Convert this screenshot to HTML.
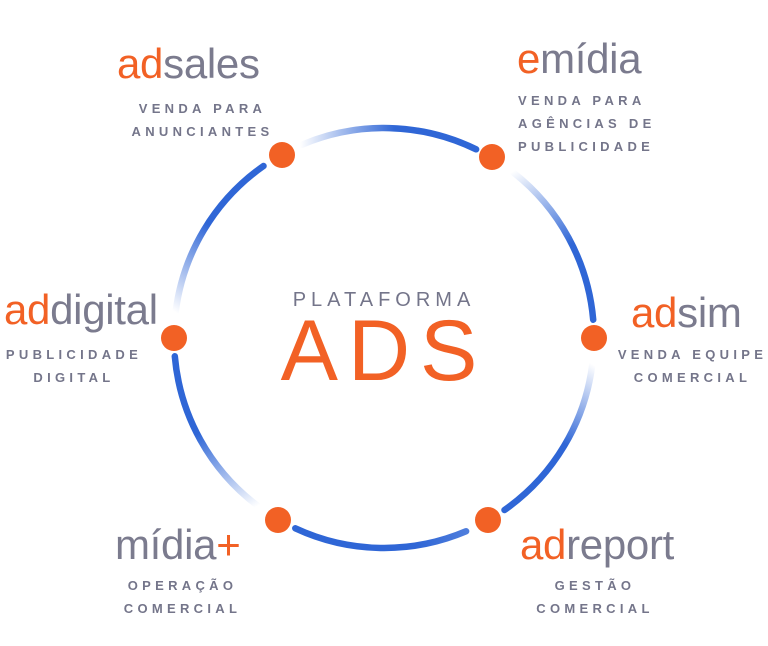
<!DOCTYPE html>
<html><head><meta charset="utf-8"><style>
body{margin:0;width:768px;height:646px;background:#fff;position:relative;overflow:hidden;font-family:"Liberation Sans",sans-serif}
.logo{position:absolute;font-size:42px;letter-spacing:-0.3px;color:#7b7b8e;line-height:1;white-space:nowrap}
.logo b{color:#f26125;font-weight:normal}
.sub{position:absolute;font-size:13px;font-weight:bold;letter-spacing:4.3px;color:#74758a;line-height:23px;white-space:nowrap}
.c{text-align:center}
</style></head><body>
<svg width="768" height="646" style="position:absolute;left:0;top:0">
<defs>
<linearGradient id="g1" gradientUnits="userSpaceOnUse" x1="300" y1="143" x2="472" y2="146"><stop offset="0" stop-color="#2f66d6" stop-opacity="0"/><stop offset="0.55" stop-color="#2f66d6"/></linearGradient>
<linearGradient id="g2" gradientUnits="userSpaceOnUse" x1="512" y1="172" x2="593" y2="318"><stop offset="0" stop-color="#2f66d6" stop-opacity="0"/><stop offset="0.55" stop-color="#2f66d6"/></linearGradient>
<linearGradient id="g3" gradientUnits="userSpaceOnUse" x1="592" y1="364" x2="505" y2="504"><stop offset="0" stop-color="#2f66d6" stop-opacity="0"/><stop offset="0.5" stop-color="#2f66d6"/></linearGradient>
<linearGradient id="g4" gradientUnits="userSpaceOnUse" x1="466" y1="530" x2="298" y2="530"><stop offset="0" stop-color="#2f66d6" stop-opacity="0.85"/><stop offset="0.3" stop-color="#2f66d6"/></linearGradient>
<linearGradient id="g5" gradientUnits="userSpaceOnUse" x1="256" y1="507" x2="175" y2="360"><stop offset="0" stop-color="#2f66d6" stop-opacity="0"/><stop offset="0.55" stop-color="#2f66d6"/></linearGradient>
<linearGradient id="g6" gradientUnits="userSpaceOnUse" x1="175" y1="312" x2="262" y2="168"><stop offset="0" stop-color="#2f66d6" stop-opacity="0"/><stop offset="0.55" stop-color="#2f66d6"/></linearGradient>
</defs>
<g fill="none" stroke-width="6.5" stroke-linecap="round">
<path id="a1" stroke="url(#g1)"/>
<path id="a2" stroke="url(#g2)"/>
<path id="a3" stroke="url(#g3)"/>
<path id="a4" stroke="url(#g4)"/>
<path id="a5" stroke="url(#g5)"/>
<path id="a6" stroke="url(#g6)"/>
</g>
<g fill="#f26125">
<circle cx="282" cy="155" r="13"/><circle cx="492" cy="157" r="13"/><circle cx="594" cy="338" r="13"/>
<circle cx="488" cy="520" r="13"/><circle cx="278" cy="520" r="13"/><circle cx="174" cy="338" r="13"/>
</g>
</svg>
<script>
(function(){var cx=384,cy=338,r=210;var d=[240,301,360,420,480,540];
function p(a){a=a*Math.PI/180;return (cx+r*Math.cos(a)).toFixed(1)+" "+(cy+r*Math.sin(a)).toFixed(1);}
for(var i=0;i<6;i++){var s=d[i]+7,e=d[(i+1)%6]-5;if(i==5){e=d[0]+360-5;}
document.getElementById("a"+(i+1)).setAttribute("d","M"+p(s)+" A"+r+" "+r+" 0 0 1 "+p(e));}})();
</script>
<div class="logo" style="left:117px;top:43px"><b>ad</b>sales</div>
<div class="sub c" style="left:120px;top:97px;width:165px">VENDA PARA<br>ANUNCIANTES</div>
<div class="logo" style="left:517px;top:38px"><b>e</b>mídia</div>
<div class="sub" style="left:518px;top:89px">VENDA PARA<br>AGÊNCIAS DE<br>PUBLICIDADE</div>
<div class="logo" style="left:4px;top:289px"><b>ad</b>digital</div>
<div class="sub c" style="left:0px;top:343px;width:148px">PUBLICIDADE<br>DIGITAL</div>
<div class="logo" style="left:631px;top:292px"><b>ad</b>sim</div>
<div class="sub c" style="left:615px;top:343px;width:155px">VENDA EQUIPE<br>COMERCIAL</div>
<div class="logo" style="left:115px;top:524px">mídia<b>+</b></div>
<div class="sub c" style="left:105px;top:574px;width:155px">OPERAÇÃO<br>COMERCIAL</div>
<div class="logo" style="left:520px;top:524px"><b>ad</b>report</div>
<div class="sub c" style="left:515px;top:574px;width:160px">GESTÃO<br>COMERCIAL</div>
<div style="position:absolute;left:284px;top:289px;width:200px;text-align:center;font-size:20px;letter-spacing:5px;color:#74758a">PLATAFORMA</div>
<div style="position:absolute;left:274px;top:308px;width:220px;text-align:center;font-size:86px;letter-spacing:10px;color:#f26125;line-height:1">ADS</div>
</body></html>
